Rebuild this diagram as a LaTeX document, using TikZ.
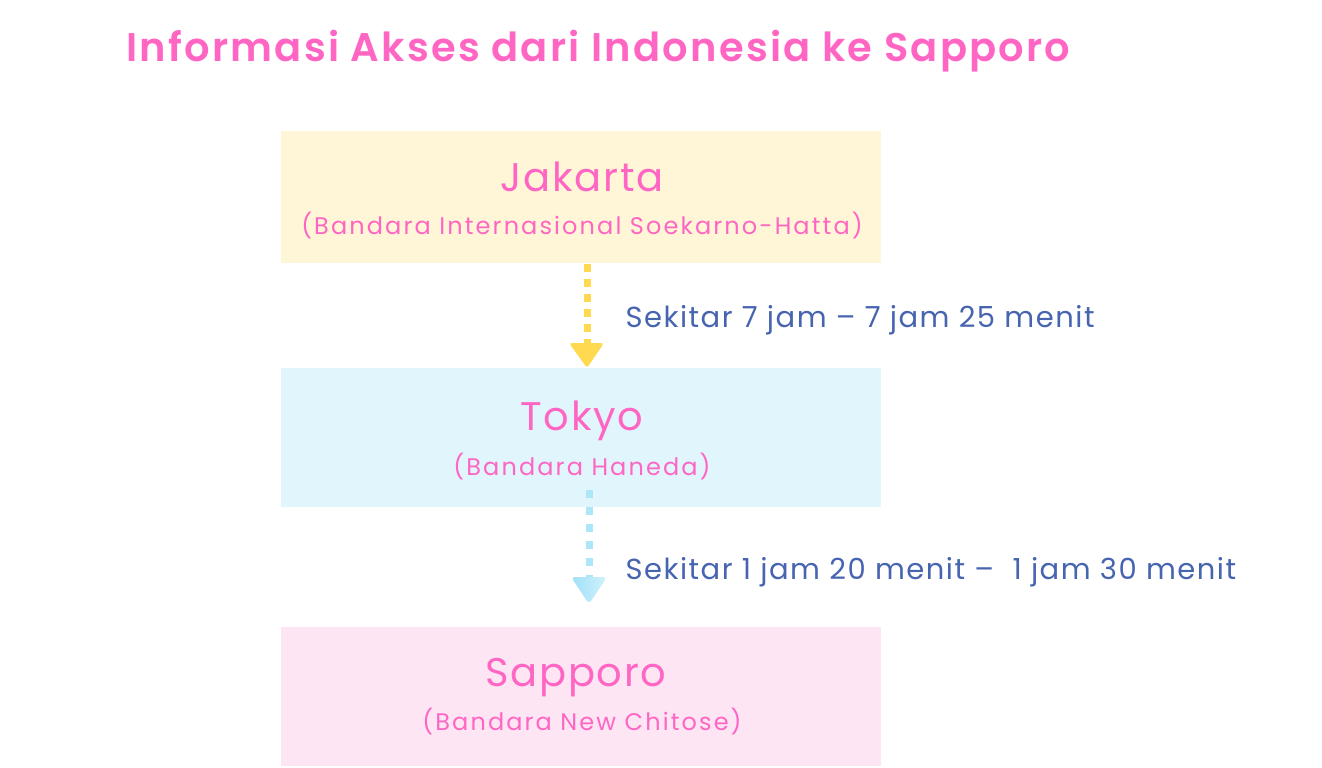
\documentclass[tikz,border=0pt]{standalone}
\usepackage{fontspec}
\setmainfont{Poppins}
\newfontfamily\titlefont{Poppins SemiBold}
\usetikzlibrary{arrows.meta}
\definecolor{pinktxt}{HTML}{FF66C4}
\definecolor{bluetxt}{HTML}{4664B0}
\definecolor{yelbox}{HTML}{FFF6D7}
\definecolor{bluebox}{HTML}{E1F5FD}
\definecolor{pinkbox}{HTML}{FDE5F4}
\definecolor{yelarrow}{HTML}{FFD94F}
\definecolor{bluearrow}{HTML}{ADE6F9}
\definecolor{bluearrowA}{HTML}{9FE0F8}
\definecolor{bluearrowB}{HTML}{D2F2FD}
\tikzset{
  city/.style={text=pinktxt, font=\fontsize{40}{48}\selectfont\addfontfeatures{LetterSpace=4.3}, anchor=base},
  airport/.style={text=pinktxt, font=\fontsize{24}{28}\selectfont\addfontfeatures{LetterSpace=8.8}, anchor=base},
  dur/.style={text=bluetxt, font=\fontsize{29}{34}\selectfont\addfontfeatures{LetterSpace=5.2}, anchor=base west},
  flow/.style={line width=7pt},
}
\begin{document}
\begin{tikzpicture}[x=1pt,y=-1pt]
\useasboundingbox (0,0) rectangle (1322,768);
\fill[white] (0,0) rectangle (1322,768);
\node[text=pinktxt, font=\fontsize{40}{48}\titlefont\selectfont\addfontfeatures{LetterSpace=5.5}, anchor=base west] (title) at (123,62) {Informasi Akses dari Indonesia ke Sapporo};
\fill[yelbox] (281,131) rectangle (881,263);
\fill[bluebox] (281,368) rectangle (881,507);
\fill[pinkbox] (281,627) rectangle (881,766);
\node[city] (jkt) at (582,191) {Jakarta};
\node[airport] (jkta) at (582,234) {(Bandara Internasional Soekarno-Hatta)};
\node[city] (tyo) at (582,430) {Tokyo};
\node[airport] (tyoa) at (582,475) {(Bandara Haneda)};
\node[city] (spk) at (576,686) {Sapporo};
\node[airport] (spka) at (582,730) {(Bandara New Chitose)};
\coordinate (a1s) at (587,264);
\coordinate (a1e) at (587,345);
\coordinate (a2s) at (589,490);
\coordinate (a2e) at (589,578);
\draw[flow, yelarrow, dash pattern=on 8pt off 7pt] (a1s) -- (a1e);
\fill[yelarrow, rounded corners=3pt] (569,343) -- (604,343) -- (587,368) -- cycle;
\draw[flow, bluearrow, dash pattern=on 8pt off 9pt] (a2s) -- (a2e);
\shade[left color=bluearrowA, right color=bluearrowB, rounded corners=4pt] (571,577) -- (607,577) -- (589,604) -- cycle;
\node[dur] (d1) at (622,327) {Sekitar 7 jam – 7 jam 25 menit};
\node[dur] (d2) at (622,579) {Sekitar 1 jam 20 menit –\ \ 1 jam 30 menit};
\end{tikzpicture}
\end{document}
